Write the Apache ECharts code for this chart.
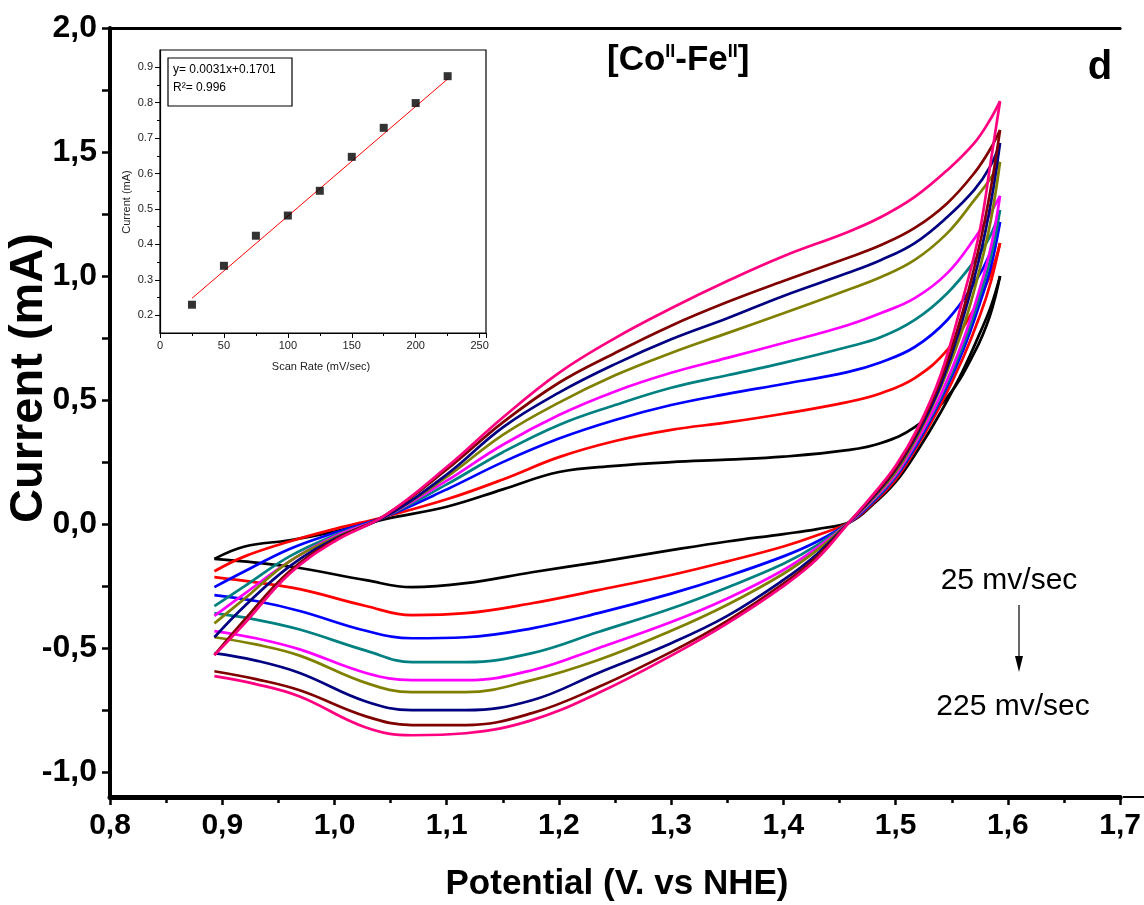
<!DOCTYPE html>
<html><head><meta charset="utf-8">
<script src="https://cdn.jsdelivr.net/npm/echarts@6/dist/echarts.min.js"></script>
<style>html,body{margin:0;padding:0;background:#fff}#c{width:1144px;height:905px}</style>
</head><body><div id="c"></div>
<script>
// ---- data ----
const scanRates = [25, 50, 75, 100, 125, 150, 175, 200, 225];
const curveColors = ['#000000', '#FF0000', '#0000FF', '#008080', '#FF00FF', '#808000', '#000080', '#800000', '#FF0080'];

// anodic (forward) scan potentials, V
const anodicE = [0.893, 0.92, 0.96, 1.0, 1.045, 1.1, 1.15, 1.2, 1.25, 1.3, 1.35, 1.4, 1.457, 1.487, 1.517, 1.546, 1.57, 1.584, 1.593];
// cathodic (reverse) scan potentials, V
const cathodicE = [1.593, 1.585, 1.575, 1.56, 1.54, 1.52, 1.5, 1.48, 1.46, 1.43, 1.4, 1.35, 1.3, 1.235, 1.176, 1.117, 1.069, 1.028, 0.969, 0.93, 0.893];

const anodic25  = [-0.14, -0.09, -0.065, -0.03, 0.02, 0.07, 0.14, 0.21, 0.235, 0.25, 0.26, 0.272, 0.298, 0.327, 0.391, 0.512, 0.69, 0.84, 1.0];
const anodic50  = [-0.19, -0.13, -0.07, -0.02, 0.03, 0.1, 0.18, 0.27, 0.335, 0.38, 0.41, 0.445, 0.492, 0.528, 0.589, 0.702, 0.87, 1.0, 1.133];
const anodic75  = [-0.254, -0.19, -0.1, -0.035, 0.03, 0.14, 0.25, 0.345, 0.42, 0.48, 0.525, 0.565, 0.613, 0.653, 0.714, 0.823, 0.97, 1.09, 1.218];
const anodic100 = [-0.331, -0.25, -0.13, -0.045, 0.03, 0.16, 0.29, 0.4, 0.48, 0.55, 0.6, 0.65, 0.714, 0.754, 0.823, 0.931, 1.06, 1.16, 1.266];
const anodic125 = [-0.37, -0.28, -0.15, -0.05, 0.03, 0.175, 0.32, 0.44, 0.535, 0.61, 0.67, 0.73, 0.802, 0.851, 0.911, 1.012, 1.15, 1.25, 1.323];
const anodic150 = [-0.4, -0.3, -0.15, -0.055, 0.03, 0.19, 0.36, 0.49, 0.6, 0.69, 0.77, 0.85, 0.944, 0.996, 1.065, 1.173, 1.306, 1.39, 1.46];
const anodic175 = [-0.456, -0.33, -0.17, -0.06, 0.03, 0.2, 0.39, 0.53, 0.645, 0.745, 0.83, 0.92, 1.012, 1.065, 1.133, 1.238, 1.347, 1.44, 1.536];
const anodic200 = [-0.528, -0.385, -0.19, -0.065, 0.035, 0.22, 0.41, 0.57, 0.69, 0.8, 0.895, 0.98, 1.073, 1.125, 1.194, 1.294, 1.415, 1.51, 1.589];
const anodic225 = [-0.528, -0.4, -0.2, -0.07, 0.035, 0.23, 0.43, 0.61, 0.75, 0.87, 0.98, 1.08, 1.177, 1.238, 1.319, 1.427, 1.536, 1.629, 1.705];

const cathodic25  = [1.0, 0.88, 0.77, 0.62, 0.45, 0.30, 0.17, 0.08, 0.01, -0.02, -0.04, -0.07, -0.105, -0.153, -0.194, -0.238, -0.254, -0.226, -0.177, -0.155, -0.14];
const cathodic50  = [1.133, 0.98, 0.84, 0.67, 0.48, 0.32, 0.18, 0.085, 0.01, -0.045, -0.09, -0.15, -0.205, -0.266, -0.319, -0.359, -0.367, -0.33, -0.262, -0.235, -0.214];
const cathodic75  = [1.218, 1.04, 0.89, 0.70, 0.50, 0.33, 0.19, 0.09, 0.01, -0.07, -0.13, -0.21, -0.28, -0.359, -0.42, -0.456, -0.46, -0.43, -0.35, -0.31, -0.286];
const cathodic100 = [1.266, 1.08, 0.92, 0.72, 0.51, 0.34, 0.195, 0.095, 0.012, -0.085, -0.16, -0.255, -0.34, -0.435, -0.52, -0.556, -0.556, -0.51, -0.425, -0.385, -0.359];
const cathodic125 = [1.323, 1.12, 0.95, 0.74, 0.52, 0.345, 0.2, 0.1, 0.012, -0.095, -0.185, -0.3, -0.395, -0.5, -0.589, -0.629, -0.629, -0.6, -0.505, -0.46, -0.431];
const cathodic150 = [1.46, 1.23, 1.03, 0.79, 0.55, 0.36, 0.21, 0.105, 0.013, -0.105, -0.2, -0.325, -0.43, -0.548, -0.629, -0.677, -0.677, -0.64, -0.53, -0.485, -0.456];
const cathodic175 = [1.536, 1.3, 1.08, 0.83, 0.56, 0.37, 0.22, 0.11, 0.014, -0.12, -0.225, -0.37, -0.48, -0.6, -0.71, -0.75, -0.75, -0.715, -0.6, -0.55, -0.52];
const cathodic200 = [1.589, 1.36, 1.13, 0.86, 0.58, 0.38, 0.225, 0.115, 0.015, -0.13, -0.24, -0.39, -0.515, -0.657, -0.762, -0.81, -0.81, -0.775, -0.67, -0.625, -0.593];
const cathodic225 = [1.705, 1.47, 1.185, 0.91, 0.60, 0.39, 0.235, 0.12, 0.015, -0.14, -0.25, -0.4, -0.53, -0.681, -0.79, -0.843, -0.851, -0.82, -0.695, -0.645, -0.613];

// inset: peak current vs scan rate
const insetScanRate = [25, 50, 75, 100, 125, 150, 175, 200, 225];
const insetCurrent  = [0.23, 0.34, 0.425, 0.482, 0.552, 0.648, 0.730, 0.800, 0.876];
const fitX = [25, 225];
const fitY = [0.248, 0.868];

// tick labels
const mainXTicks = ['0,8', '0,9', '1,0', '1,1', '1,2', '1,3', '1,4', '1,5', '1,6', '1,7'];
const mainYTicks = ['-1,0', '-0,5', '0,0', '0,5', '1,0', '1,5', '2,0'];

// ---- chart ----
const anodicSets = [anodic25, anodic50, anodic75, anodic100, anodic125, anodic150, anodic175, anodic200, anodic225];
const cathodicSets = [cathodic25, cathodic50, cathodic75, cathodic100, cathodic125, cathodic150, cathodic175, cathodic200, cathodic225];

const FF = '"Liberation Sans", Arial, sans-serif';
const series = [];
scanRates.forEach((r, i) => {
  const base = {
    type: 'line', xAxisIndex: 0, yAxisIndex: 0, showSymbol: false, symbol: 'none',
    smooth: 0.4, lineStyle: { color: curveColors[i], width: 2.7 }, itemStyle: { color: curveColors[i] },
    silent: true, z: 2 + i
  };
  series.push(Object.assign({}, base, { name: r + ' a', data: anodicE.map((e, k) => [e, anodicSets[i][k]]) }));
  series.push(Object.assign({}, base, { name: r + ' c', data: cathodicE.map((e, k) => [e, cathodicSets[i][k]]) }));
});
series.push({
  type: 'line', xAxisIndex: 3, yAxisIndex: 3, showSymbol: false, symbol: 'none',
  lineStyle: { color: '#FF0000', width: 1 }, data: fitX.map((x, k) => [x, fitY[k]]), z: 30, silent: true
});
series.push({
  type: 'scatter', xAxisIndex: 3, yAxisIndex: 3, symbol: 'rect', symbolSize: 8,
  itemStyle: { color: '#000' }, data: insetScanRate.map((x, k) => [x, insetCurrent[k]]), z: 31, silent: true
});

const fmtComma = v => {
  const s = (Math.round(v * 10) / 10).toFixed(1).replace('.', ',');
  return s === '-0,0' ? '0,0' : s;
};

const option = {
  animation: false,
  backgroundColor: '#fff',
  grid: [
    { left: 110, right: 21, top: 28, bottom: 108 },             // main plot
    { left: 110, right: 21, top: 28, bottom: 133 },             // main y ticks (-1..2)
    { left: 160, top: 67.3, width: 326, height: 248 },          // inset y ticks (0.2..0.9)
    { left: 160, top: 50, width: 326, height: 283, show: true, backgroundColor: '#fff', borderColor: '#000', borderWidth: 1.2, z: 20 }
  ],
  xAxis: [
    { gridIndex: 0, type: 'value', min: 0.8, max: 1.7, interval: 0.1,
      axisLine: { show: true, onZero: false, lineStyle: { color: '#000', width: 5 } },
      axisTick: { show: true, inside: false, length: 8, lineStyle: { color: '#000', width: 2.5 } },
      minorTick: { show: true, splitNumber: 2, length: 6, lineStyle: { color: '#000', width: 2.5 } },
      axisLabel: { margin: 14, color: '#000', fontFamily: FF, fontWeight: 'bold', fontSize: 30, formatter: fmtComma },
      splitLine: { show: false }, minorSplitLine: { show: false } },
    { gridIndex: 0, type: 'value', position: 'top', min: 0.8, max: 1.7,
      axisLine: { show: true, onZero: false, lineStyle: { color: '#000', width: 3 } },
      axisTick: { show: false }, axisLabel: { show: false }, splitLine: { show: false } },
    { gridIndex: 1, type: 'value', min: 0.8, max: 1.7, show: false },
    { gridIndex: 3, type: 'value', min: 0, max: 255, interval: 50,
      axisLine: { show: true, onZero: false, lineStyle: { color: '#000', width: 1.2 } },
      axisTick: { show: true, inside: false, length: 5, lineStyle: { color: '#000', width: 1 } },
      minorTick: { show: true, splitNumber: 2, length: 3, lineStyle: { color: '#000', width: 1 } },
      axisLabel: { margin: 7, color: '#222', fontFamily: FF, fontSize: 11, showMaxLabel: false,
        formatter: v => (v % 50 === 0 ? String(v) : '') },
      splitLine: { show: false }, minorSplitLine: { show: false }, z: 21 },
    { gridIndex: 2, type: 'value', min: 0, max: 255, show: false }
  ],
  yAxis: [
    { gridIndex: 0, type: 'value', min: -1.1, max: 2.0,
      axisLine: { show: true, onZero: false, lineStyle: { color: '#000', width: 4 } },
      axisTick: { show: false }, axisLabel: { show: false }, splitLine: { show: false } },
    { gridIndex: 1, type: 'value', min: -1.0, max: 2.0, interval: 0.5,
      axisLine: { show: false },
      axisTick: { show: true, inside: false, length: 8, lineStyle: { color: '#000', width: 2.5 } },
      minorTick: { show: true, splitNumber: 2, length: 8, lineStyle: { color: '#000', width: 2.5 } },
      axisLabel: { margin: 13, color: '#000', fontFamily: FF, fontWeight: 'bold', fontSize: 32, formatter: fmtComma },
      splitLine: { show: false }, minorSplitLine: { show: false } },
    { gridIndex: 2, type: 'value', min: 0.2, max: 0.9, interval: 0.1,
      axisLine: { show: false },
      axisTick: { show: true, inside: false, length: 5, lineStyle: { color: '#000', width: 1 } },
      minorTick: { show: true, splitNumber: 2, length: 3, lineStyle: { color: '#000', width: 1 } },
      axisLabel: { margin: 7, color: '#222', fontFamily: FF, fontSize: 11, formatter: v => v.toFixed(1) },
      splitLine: { show: false }, minorSplitLine: { show: false }, z: 21 },
    { gridIndex: 3, type: 'value', min: 0.15, max: 0.95,
      axisLine: { show: true, onZero: false, lineStyle: { color: '#000', width: 1.2 } },
      axisTick: { show: false }, axisLabel: { show: false }, splitLine: { show: false }, z: 21 }
  ],
  title: {
    text: '[Co{s|II}-Fe{s|II}]', left: 602, top: 38,
    textStyle: { fontFamily: FF, fontWeight: 'bold', fontSize: 35, color: '#000',
      rich: { s: { fontFamily: FF, fontWeight: 'bold', fontSize: 18, color: '#000', verticalAlign: 'top' } } }
  },
  graphic: [
    { type: 'text', x: 29, y: 378, rotation: Math.PI / 2, z: 50,
      style: { text: 'Current (mA)', font: 'bold 47px ' + FF, fill: '#000', textAlign: 'center', textVerticalAlign: 'middle', align: 'center', verticalAlign: 'middle' } },
    { type: 'text', x: 617, y: 884, z: 50,
      style: { text: 'Potential (V. vs NHE)', font: 'bold 35px ' + FF, fill: '#000', textAlign: 'center', textVerticalAlign: 'middle', align: 'center', verticalAlign: 'middle' } },
    { type: 'text', x: 1100, y: 68, z: 50,
      style: { text: 'd', font: 'bold 40px ' + FF, fill: '#000', textAlign: 'center', textVerticalAlign: 'middle', align: 'center', verticalAlign: 'middle' } },
    { type: 'text', x: 1009, y: 581, z: 50,
      style: { text: '25 mv/sec', font: '30px ' + FF, fill: '#000', textAlign: 'center', textVerticalAlign: 'middle', align: 'center', verticalAlign: 'middle' } },
    { type: 'text', x: 1013, y: 707, z: 50,
      style: { text: '225 mv/sec', font: '30px ' + FF, fill: '#000', textAlign: 'center', textVerticalAlign: 'middle', align: 'center', verticalAlign: 'middle' } },
    { type: 'line', z: 50, shape: { x1: 1019, y1: 605, x2: 1019, y2: 658 }, style: { stroke: '#000', lineWidth: 1.2 } },
    { type: 'polygon', z: 50, shape: { points: [[1015, 656], [1023, 656], [1019, 672]] }, style: { fill: '#000' } },
    { type: 'line', z: 50, shape: { x1: 1123, y1: 797, x2: 1144, y2: 797 }, style: { stroke: '#000', lineWidth: 2 } },
    { type: 'rect', z: 40, shape: { x: 168, y: 58, width: 124, height: 48 }, style: { fill: '#fff', stroke: '#000', lineWidth: 1.2 } },
    { type: 'text', x: 173, y: 70, z: 41,
      style: { text: 'y= 0.0031x+0.1701', font: '12px ' + FF, fill: '#000', textAlign: 'left', textVerticalAlign: 'middle', align: 'left', verticalAlign: 'middle' } },
    { type: 'text', x: 173, y: 88, z: 41,
      style: { text: 'R²= 0.996', font: '12px ' + FF, fill: '#000', textAlign: 'left', textVerticalAlign: 'middle', align: 'left', verticalAlign: 'middle' } },
    { type: 'text', x: 321, y: 367, z: 41,
      style: { text: 'Scan Rate (mV/sec)', font: '11px ' + FF, fill: '#222', textAlign: 'center', textVerticalAlign: 'middle', align: 'center', verticalAlign: 'middle' } },
    { type: 'text', x: 127, y: 202, rotation: Math.PI / 2, z: 41,
      style: { text: 'Current (mA)', font: '11px ' + FF, fill: '#222', textAlign: 'center', textVerticalAlign: 'middle', align: 'center', verticalAlign: 'middle' } }
  ],
  series: series
};

const chart = echarts.init(document.getElementById('c'), null, { renderer: 'canvas' });
chart.setOption(option);
</script>
</body></html>
